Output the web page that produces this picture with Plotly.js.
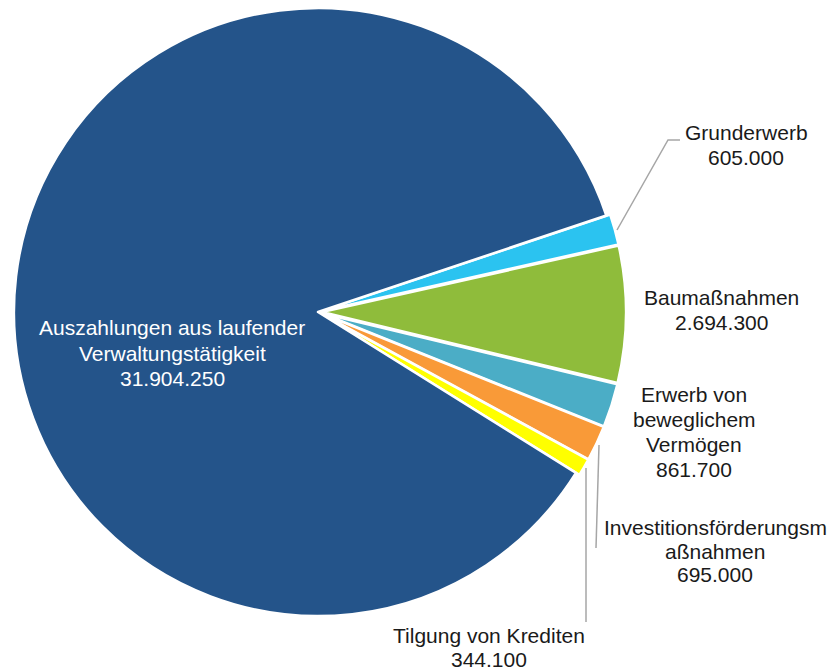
<!DOCTYPE html>
<html>
<head>
<meta charset="utf-8">
<script src="https://cdn.plot.ly/plotly-3.0.1.min.js"></script>
<style>html,body{margin:0;padding:0;background:#fff;}#chart{width:835px;height:672px;}</style>
</head>
<body>
<div id="chart"></div>
<script>
// Data
const categories = ["Grunderwerb", "Baumaßnahmen", "Erwerb von beweglichem Vermögen", "Investitionsförderungsmaßnahmen", "Tilgung von Krediten", "Auszahlungen aus laufender Verwaltungstätigkeit"];
const values = [605000, 2694300, 861700, 695000, 344100, 31904250];
const valueTexts = ["605.000", "2.694.300", "861.700", "695.000", "344.100", "31.904.250"];
const nameLines = [["Grunderwerb"], ["Baumaßnahmen"], ["Erwerb von", "beweglichem", "Vermögen"], ["Investitionsförderungsm", "aßnahmen"], ["Tilgung von Krediten"], ["Auszahlungen aus laufender", "Verwaltungstätigkeit"]];
const colors = ["#2BC3F0", "#8FBC3B", "#4BADC6", "#F99A38", "#FFFF00", "#24548A"];

const W = 835, H = 672;
const px = x => x / W;
const py = y => 1 - y / H;

// label layout: centre x, first baseline y, line step (pixels)
const labelX = [746, 721, 694, 715, 489, 172];
const labelY0 = [140, 305, 402, 535, 643, 335];
const labelStep = [25, 25, 25, 23.5, 24, 25.5];
const labelColors = ["#1a1a1a", "#1a1a1a", "#1a1a1a", "#1a1a1a", "#1a1a1a", "#ffffff"];

const font = "Liberation Sans, Arial, sans-serif";
const FS = 21;

const annotations = [];
nameLines.forEach((lines, i) => {
  const all = lines.concat([valueTexts[i]]);
  all.forEach((t, j) => {
    const base = labelY0[i] + j * labelStep[i];
    annotations.push({
      text: t, xref: "paper", yref: "paper",
      x: px(labelX[i]), y: py(base - 7.5),
      xanchor: "center", yanchor: "middle", showarrow: false, align: "center",
      font: {family: font, size: FS, color: labelColors[i]}
    });
  });
});

const lineStyle = {color: "#A6A6A6", width: 1.5};
const shapes = [
  {type: "path", xref: "paper", yref: "paper", path: `M ${px(617)} ${py(230)} L ${px(668)} ${py(140)} L ${px(680)} ${py(140)}`, line: lineStyle},
  {type: "line", xref: "paper", yref: "paper", x0: px(599), y0: py(445), x1: px(596), y1: py(548), line: lineStyle},
  {type: "line", xref: "paper", yref: "paper", x0: px(586), y0: py(468), x1: px(586), y1: py(622), line: lineStyle}
];

const trace = {
  type: "pie",
  labels: categories,
  values: values,
  sort: false,
  direction: "clockwise",
  rotation: 71.5,
  pull: [0.013, 0.013, 0.013, 0.013, 0.013, 0],
  marker: {colors: colors, line: {color: "#ffffff", width: 2.5}},
  textinfo: "none",
  hoverinfo: "label+value",
  showlegend: false,
  domain: {x: [0.01198, 0.7497], y: [0.07738, 0.99405]}
};

const layout = {
  width: W, height: H,
  margin: {l: 0, r: 0, t: 0, b: 0},
  paper_bgcolor: "#ffffff",
  showlegend: false,
  annotations: annotations,
  shapes: shapes,
  font: {family: font}
};

Plotly.newPlot("chart", [trace], layout, {displayModeBar: false, staticPlot: true});
</script>
</body>
</html>
